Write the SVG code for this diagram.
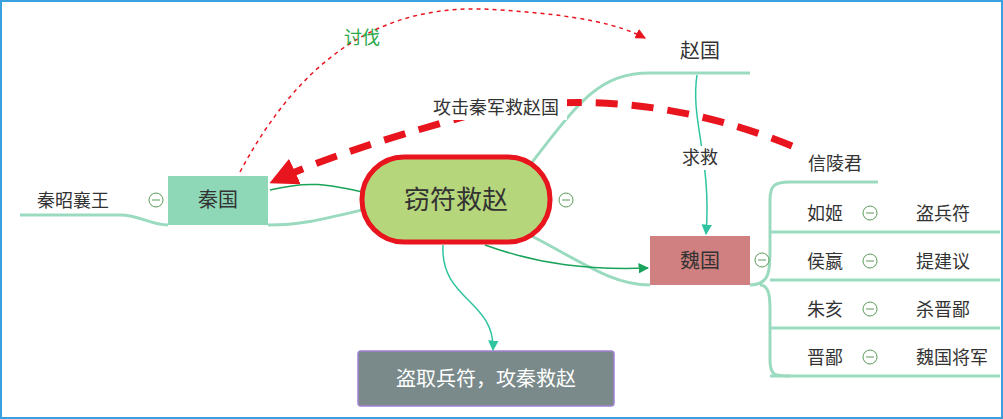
<svg xmlns="http://www.w3.org/2000/svg" width="1003" height="419" viewBox="0 0 1003 419">
<defs>
<style>
text{font-family:"Noto Sans CJK SC","Liberation Sans",sans-serif;font-size:18px;fill:#333}
.br{fill:none;stroke:#9adbc0;stroke-width:3}
.c{fill:#fff;stroke:#5a9a5a;stroke-width:1}
</style>
<marker id="ag" viewBox="0 0 10 10" refX="9" refY="5" markerWidth="7" markerHeight="7" orient="auto"><path d="M0,0L10,5L0,10z" fill="#1aa35a"/></marker>
<marker id="at" viewBox="0 0 10 10" refX="9" refY="5" markerWidth="7" markerHeight="7" orient="auto"><path d="M0,0L10,5L0,10z" fill="#2ec4a0"/></marker>
<marker id="ar" viewBox="0 0 10 10" refX="9" refY="5" markerWidth="4" markerHeight="4" orient="auto"><path d="M0,0L10,5L0,10z" fill="#e8141e"/></marker>
<marker id="ar2" viewBox="0 0 10 10" refX="9" refY="5" markerWidth="7" markerHeight="7" orient="auto"><path d="M0,0L10,5L0,10z" fill="#e8141e"/></marker>
</defs>
<rect x="1" y="1" width="1001" height="417" fill="#fff" stroke="#3aa0e0" stroke-width="2"/>
<g id="connectors">
<path class="br" d="M530,165 C580,100 600,73 650,73 L750,73" stroke-width="6"/>
<path class="br" d="M362,210 C320,220 300,225 268,225" stroke-width="5"/>
<path class="br" d="M168,225 C150,225 140,215 120,215 L20,215"/>
<path class="br" d="M520,230 C580,260 610,285 650,285" stroke-width="6"/>
<path class="br" d="M750,285 C770,285 770,270 770,250 L770,200 C770,185 775,182 790,182 L878,182"/>
<path class="br" d="M770,232 L1000,232 M770,280 L1000,280 M770,328 L1000,328 M770,376 L1000,376" stroke-width="2"/>
<path class="br" d="M760,285 C770,285 770,300 770,310 L770,360 C770,376 775,376 790,376" stroke-width="2"/>
<path d="M270,190 C310,180 330,185 362,192" fill="none" stroke="#1aa35a" stroke-width="1.5"/>
<path d="M485,245 C540,265 590,270 648,268" fill="none" stroke="#1aa35a" stroke-width="1.5" marker-end="url(#ag)"/>
<path d="M697,75 C690,120 712,160 706,234" fill="none" stroke="#2ec4a0" stroke-width="1.5" marker-end="url(#at)"/>
<path d="M443,245 C440,300 495,300 493,350" fill="none" stroke="#2ec4a0" stroke-width="1.5" marker-end="url(#at)"/>
<path d="M240,172 C300,60 380,0 500,10 C580,15 620,25 645,38" fill="none" stroke="#e8141e" stroke-width="1.5" stroke-dasharray="4,4" marker-end="url(#ar2)"/>
<path d="M792,146 C680,100 560,90 460,118 C380,140 320,160 272,182" fill="none" stroke="#e8141e" stroke-width="7" stroke-dasharray="22,14" marker-end="url(#ar)"/>
</g>
<text x="362" y="44" text-anchor="middle" style="fill:#2aa84a">讨伐</text>
<g id="label-attack"><rect x="425" y="96" width="142" height="24" fill="#fff"/><text x="496" y="114" text-anchor="middle">攻击秦军救赵国</text></g>
<g id="label-help"><rect x="678" y="146" width="44" height="24" fill="#fff"/><text x="700" y="164" text-anchor="middle">求救</text></g>
<g id="center"><rect x="362" y="157" width="188" height="85" rx="42" fill="#b5d67a" stroke="#e8141e" stroke-width="5"/><text x="456" y="209" text-anchor="middle" style="font-size:26px">窃符救赵</text><circle class="c" cx="566" cy="200" r="7"/><path d="M562,200h8" stroke="#5a9a5a"/></g>
<g id="qin"><rect x="168" y="176" width="100" height="49" fill="#8ed8b8"/><text x="218" y="207" text-anchor="middle" style="font-size:20px">秦国</text><circle class="c" cx="156" cy="200" r="7"/><path d="M152,200h8" stroke="#5a9a5a"/></g>
<g id="qinking"><text x="73" y="207" text-anchor="middle">秦昭襄王</text></g>
<g id="zhao"><text x="700" y="58" text-anchor="middle" style="font-size:20px">赵国</text></g>
<g id="wei"><rect x="650" y="236" width="100" height="49" fill="#d08080"/><text x="700" y="268" text-anchor="middle" style="font-size:20px">魏国</text><circle class="c" cx="762" cy="260" r="7"/><path d="M758,260h8" stroke="#5a9a5a"/></g>
<g id="bottom"><rect x="358" y="351" width="256" height="55" rx="3" fill="#7a8a8a" stroke="#a080d0" stroke-width="1.5"/><text x="486" y="386" text-anchor="middle" style="fill:#fff;font-size:20px">盗取兵符，攻秦救赵</text></g>
<g id="xinling"><text x="835" y="170" text-anchor="middle">信陵君</text></g>
<g id="rows">
<text x="825" y="220" text-anchor="middle">如姬</text><circle class="c" cx="870" cy="213" r="7"/><path d="M866,213h8" stroke="#5a9a5a"/><text x="943" y="220" text-anchor="middle">盗兵符</text>
<text x="825" y="268" text-anchor="middle">侯嬴</text><circle class="c" cx="870" cy="261" r="7"/><path d="M866,261h8" stroke="#5a9a5a"/><text x="943" y="268" text-anchor="middle">提建议</text>
<text x="825" y="316" text-anchor="middle">朱亥</text><circle class="c" cx="870" cy="309" r="7"/><path d="M866,309h8" stroke="#5a9a5a"/><text x="943" y="316" text-anchor="middle">杀晋鄙</text>
<text x="825" y="364" text-anchor="middle">晋鄙</text><circle class="c" cx="870" cy="357" r="7"/><path d="M866,357h8" stroke="#5a9a5a"/><text x="952" y="364" text-anchor="middle">魏国将军</text>
</g>
</svg>
